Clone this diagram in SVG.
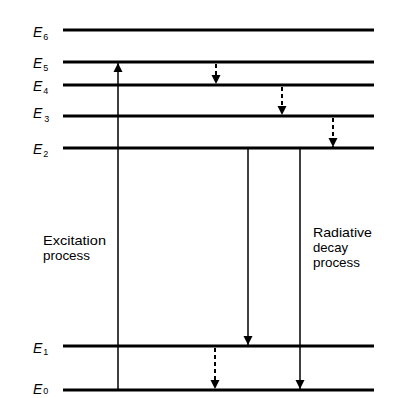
<svg xmlns="http://www.w3.org/2000/svg" width="398" height="398" viewBox="0 0 398 398">
<style>
.lvl{stroke:#000;stroke-width:3;fill:none}
.ar{stroke:#000;stroke-width:1.5;fill:none}
.da{stroke:#000;stroke-width:2;fill:none;stroke-dasharray:4 3}
.lab{font-family:"Liberation Sans",Arial,sans-serif;font-size:13px;fill:#000}
.e{font-family:"Liberation Sans",Arial,sans-serif;font-size:14px;font-style:italic;fill:#000}
.s{font-size:9px;font-style:normal}
</style>
<defs>
<marker id="ah" viewBox="0 0 10 10" refX="10" refY="5" markerWidth="9" markerHeight="10" markerUnits="userSpaceOnUse" orient="auto">
<path d="M0,0 L10,5 L0,10 z" fill="#000"/>
</marker>
</defs>
<rect width="398" height="398" fill="#fff"/>
<g id="E6"><line class="lvl" x1="63" y1="30" x2="374" y2="30"/><text class="e" x="33" y="37">E<tspan class="s" dx="1" dy="3">6</tspan></text></g>
<g id="E5"><line class="lvl" x1="63" y1="62" x2="374" y2="62"/><text class="e" x="33" y="68">E<tspan class="s" dx="1" dy="3">5</tspan></text></g>
<g id="E4"><line class="lvl" x1="63" y1="85" x2="374" y2="85"/><text class="e" x="33" y="91">E<tspan class="s" dx="1" dy="3">4</tspan></text></g>
<g id="E3"><line class="lvl" x1="63" y1="116" x2="374" y2="116"/><text class="e" x="33" y="118">E<tspan class="s" dx="2" dy="4">3</tspan></text></g>
<g id="E2"><line class="lvl" x1="63" y1="148" x2="374" y2="148"/><text class="e" x="33" y="154">E<tspan class="s" dx="1" dy="3">2</tspan></text></g>
<g id="E1"><line class="lvl" x1="63" y1="346" x2="374" y2="346"/><text class="e" x="33" y="353">E<tspan class="s" dx="1" dy="2">1</tspan></text></g>
<g id="E0"><line class="lvl" x1="63" y1="390" x2="374" y2="390"/><text class="e" x="33" y="394">E<tspan class="s" dx="1" dy="0">0</tspan></text></g>
<g id="labels">
<text class="lab" x="43" y="245" textLength="63" lengthAdjust="spacingAndGlyphs">Excitation</text>
<text class="lab" x="43" y="260" textLength="47" lengthAdjust="spacingAndGlyphs">process</text>
<text class="lab" x="313" y="237" textLength="59" lengthAdjust="spacingAndGlyphs">Radiative</text>
<text class="lab" x="313" y="252" textLength="35" lengthAdjust="spacingAndGlyphs">decay</text>
<text class="lab" x="313" y="267" textLength="47" lengthAdjust="spacingAndGlyphs">process</text>
</g>
<g id="connectors">
<line class="ar" x1="118" y1="390" x2="118" y2="63" marker-end="url(#ah)"/>
<line class="da" x1="216" y1="64" x2="216" y2="84" marker-end="url(#ah)"/>
<line class="da" x1="282" y1="87" x2="282" y2="115" marker-end="url(#ah)"/>
<line class="da" x1="333" y1="118" x2="333" y2="147" marker-end="url(#ah)"/>
<line class="da" x1="215" y1="348" x2="215" y2="389" marker-end="url(#ah)"/>
<line class="ar" x1="248" y1="149" x2="248" y2="345" marker-end="url(#ah)"/>
<line class="ar" x1="300" y1="149" x2="300" y2="389" marker-end="url(#ah)"/>
</g>
</svg>
